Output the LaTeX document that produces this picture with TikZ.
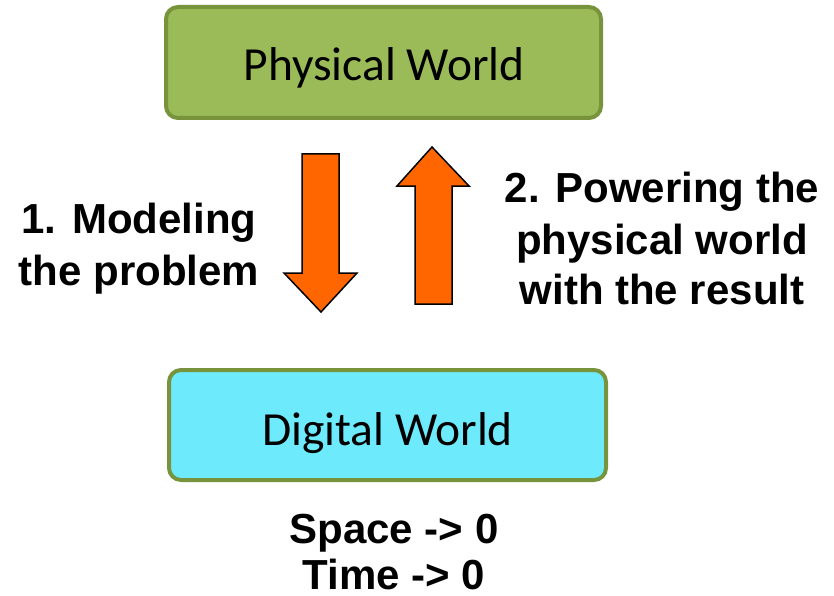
\documentclass[tikz,border=0pt]{standalone}
\usepackage{fontspec}
\setmainfont{Liberation Sans}
\newfontfamily\calibri{Carlito}
\definecolor{boxedge}{HTML}{77933C}
\definecolor{greenfill}{HTML}{9BBB59}
\definecolor{cyanfill}{HTML}{6DEBFC}
\definecolor{arroworange}{HTML}{FF6600}
\tikzset{
  worldbox/.style={draw=boxedge, line width=4pt, rounded corners=12pt, inner sep=0pt},
  worldtext/.style={font=\calibri\fontsize{47.5}{50}\selectfont, anchor=base, inner sep=0pt},
  blockarrow/.style={draw=black, line width=1.5pt, fill=arroworange, line join=miter},
  boldlabel/.style={font=\bfseries\fontsize{42}{50}\selectfont, anchor=base, inner sep=0pt}
}
\begin{document}
\begin{tikzpicture}[x=1pt,y=-1pt]
\useasboundingbox (0,0) rectangle (834,596);
\node[worldbox, fill=greenfill, minimum width=435pt, minimum height=111pt] (phys) at (383.5,62.5) {};
\node[worldtext] (physt) at (384,81) {Physical World};
\node[worldbox, fill=cyanfill, minimum width=437pt, minimum height=110pt] (dig) at (387.5,425) {};
\node[worldtext] (digt) at (387.5,445) {Digital World};
% down arrow
\draw[blockarrow] (302,154) -- (339,154) -- (339,273) -- (357,273) -- (321,312) -- (284,273) -- (302,273) -- cycle;
% up arrow
\draw[blockarrow] (415,304) -- (452,304) -- (452,186) -- (469,186) -- (432,147) -- (397,186) -- (415,186) -- cycle;
\node[boldlabel] (l1a) at (139,233) {1. Modeling};
\node[boldlabel] (l1b) at (139,285) {the problem};
\node[boldlabel] (l2a) at (662,202) {2. Powering the};
\node[boldlabel] (l2b) at (662,254) {physical world};
\node[boldlabel] (l2c) at (662,304) {with the result};
\node[boldlabel] (l3a) at (394,543) {Space -> 0};
\node[boldlabel] (l3b) at (394,589) {Time -> 0};
\end{tikzpicture}
\end{document}
